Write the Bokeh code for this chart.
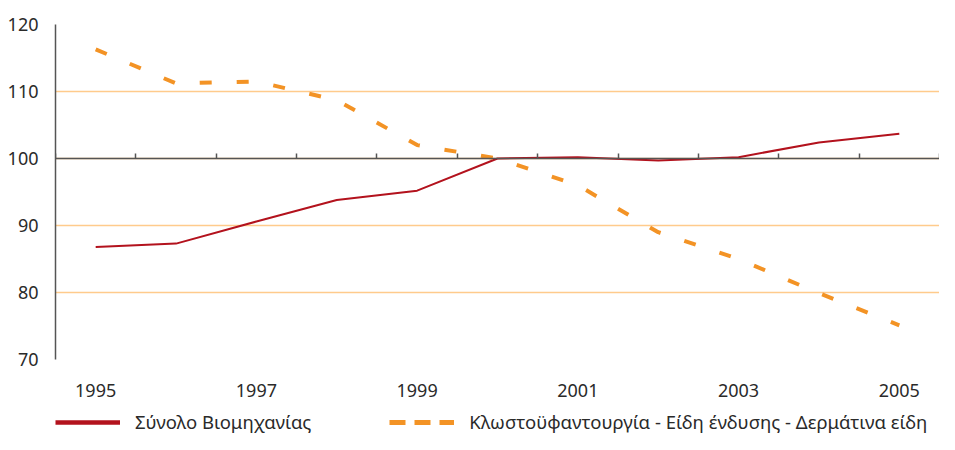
from bokeh.plotting import figure
from bokeh.layouts import column
from bokeh.models import (Range1d, LinearAxis, FixedTicker, Legend, LegendItem, ColumnDataSource)
from bokeh.embed import file_html
from bokeh.resources import INLINE

# ---- data ----
YEARS = ["1995", "1996", "1997", "1998", "1999", "2000", "2001", "2002", "2003", "2004", "2005"]
TOTAL_INDUSTRY = [86.8, 87.3, 90.6, 93.8, 95.2, 100.0, 100.2, 99.7, 100.2, 102.4, 103.7]
TEXTILES = [116.3, 111.2, 111.5, 108.7, 102.0, 100.0, 96.0, 89.0, 85.0, 79.9, 75.1]
SERIES_NAMES = ["Σύνολο Βιομηχανίας",
                "Κλωστοϋφαντουργία - Είδη ένδυσης - Δερμάτινα είδη"]
Y_TICKS = [70, 80, 90, 100, 110, 120]
BASE = 100
LABELED_YEARS = ["1995", "1997", "1999", "2001", "2003", "2005"]

RED = "#B3121D"
ORANGE = "#F39325"
GRID = "#FFCB8C"
AXIS = "#555555"
TEXT = "#2a2a2a"
FONT = "Noto Sans"

n = len(YEARS)
xpos = [i + 0.5 for i in range(n)]
src = ColumnDataSource(dict(x=xpos, total=TOTAL_INDUSTRY, tex=TEXTILES))

p = figure(width=939, height=400, output_backend="svg", toolbar_location=None,
           x_range=Range1d(0, n), y_range=Range1d(min(Y_TICKS), max(Y_TICKS)),
           x_axis_location=None, min_border_left=55, min_border_right=0,
           min_border_top=24, min_border_bottom=41)
p.outline_line_color = None
p.xgrid.visible = False
p.ygrid.ticker = FixedTicker(ticks=Y_TICKS)
p.ygrid.grid_line_color = GRID
p.ygrid.grid_line_width = 1.3

yax = p.yaxis[0]
yax.ticker = FixedTicker(ticks=Y_TICKS)
yax.major_tick_out = 0
yax.major_tick_in = 0
yax.minor_tick_line_color = None
yax.axis_line_color = AXIS
yax.axis_line_width = 1.5
yax.major_label_standoff = 17
yax.major_label_text_font = FONT
yax.major_label_text_font_size = "18px"
yax.major_label_text_color = TEXT

# year labels at bottom
label_ticks = [xpos[YEARS.index(y)] for y in LABELED_YEARS]
lab_axis = LinearAxis(ticker=FixedTicker(ticks=label_ticks),
                      major_label_overrides={t: y for t, y in zip(label_ticks, LABELED_YEARS)},
                      axis_line_color=None, major_tick_line_color=None,
                      minor_tick_line_color=None, major_label_standoff=18,
                      major_label_text_font=FONT, major_label_text_font_size="18px",
                      major_label_text_color=TEXT)
p.add_layout(lab_axis, "below")

# crossing axis at base 100 with category-boundary ticks (no labels)
bounds = list(range(n + 1))
base_axis = LinearAxis(fixed_location=BASE, ticker=FixedTicker(ticks=bounds),
                       major_tick_in=5, major_tick_out=0, major_tick_line_color=AXIS,
                       major_tick_line_width=1.5, minor_tick_line_color=None,
                       axis_line_color=AXIS, axis_line_width=1.5,
                       major_label_overrides={b: "" for b in bounds})
p.add_layout(base_axis, "below")

p.line("x", "total", source=src, line_color=RED, line_width=2)
p.line("x", "tex", source=src, line_color=ORANGE, line_width=4, line_dash="12 25")

# ---- legend strip below the chart ----
lf = figure(width=939, height=34, output_backend="svg", toolbar_location=None,
            x_range=Range1d(0, 1), y_range=Range1d(0, 1),
            x_axis_location=None, y_axis_location=None,
            min_border_left=0, min_border_right=0, min_border_top=0, min_border_bottom=0)
lf.outline_line_color = None
lf.xgrid.visible = False
lf.ygrid.visible = False
nan = float("nan")
lg1 = lf.line(x=[nan], y=[nan], line_color=RED, line_width=4.5)
lg2 = lf.line(x=[nan], y=[nan], line_color=ORANGE, line_width=5, line_dash="16 9")

legend = Legend(items=[LegendItem(label=SERIES_NAMES[0], renderers=[lg1]),
                       LegendItem(label=SERIES_NAMES[1], renderers=[lg2])],
                orientation="horizontal", location=(0, 0),
                glyph_width=65, glyph_height=16, label_height=16,
                label_standoff=15, spacing=78, padding=0, margin=0,
                border_line_color=None, background_fill_alpha=0,
                label_text_font=FONT, label_text_font_size="18.5px",
                label_text_color=TEXT)
lf.add_layout(legend, "center")

open("out.html", "w").write(file_html(column(p, lf, spacing=0), INLINE))
